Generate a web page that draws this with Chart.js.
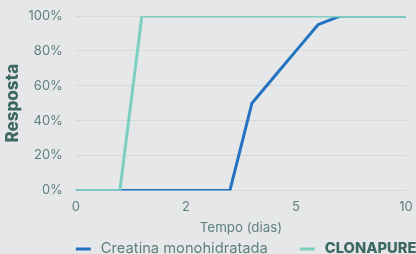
<!DOCTYPE html>
<html>
<head>
<meta charset="utf-8">
<script src="https://cdn.jsdelivr.net/npm/chart.js@4/dist/chart.umd.min.js"></script>
<style>
  html, body { margin: 0; padding: 0; background: #e6e7e9; }
  canvas { display: block; }
</style>
</head>
<body>
<canvas id="respostaChart" width="416" height="254"></canvas>
<script>
// days along the x axis (category positions), only some get a visible label
const days = ['0', '0.4', '0.8', '1.2', '1.6', '2', '2.6', '3.2', '3.8', '4.4', '5', '6', '7', '8', '9', '10'];
const shownDays = ['0', '2', '5', '10'];

const creatina = [0, 0, 0, 0, 0, 0, 0, 0, 50, 65, 80, 95, 100, 100, 100, 100];
const clonapure = [0, 0, 0, 100, 100, 100, 100, 100, 100, 100, 100, 100, 100, 100, 100, 100];

const seriesNames = ['Creatina monohidratada', 'CLONAPURE'];
const yTicks = [0, 20, 40, 60, 80, 100];

const tickColor = '#5f807b';
const titleColor = '#3e6863';
const blue = '#2373c1';
const teal = '#7dd0c0';

// legend drawn by hand so the second entry can be bold
const bottomLegend = {
    id: 'bottomLegend',
    afterDraw(chart) {
        const ctx = chart.ctx;
        const y = chart.height - 5;
        let x = chart.chartArea.left;
        const entries = [
            { text: seriesNames[0], color: blue, font: '400 14.7px Inter', textColor: tickColor },
            { text: seriesNames[1], color: teal, font: '800 14.7px Inter', textColor: titleColor }
        ];
        ctx.save();
        ctx.textBaseline = 'middle';
        ctx.textAlign = 'left';
        entries.forEach(e => {
            ctx.fillStyle = e.color;
            ctx.fillRect(x, y - 1.5, 15, 3);
            ctx.font = e.font;
            ctx.fillStyle = e.textColor;
            ctx.fillText(e.text, x + 25, y);
            x += 25 + ctx.measureText(e.text).width + 32;
        });
        ctx.restore();
    }
};

const ctx = document.getElementById('respostaChart').getContext('2d');
new Chart(ctx, {
    type: 'line',
    data: {
        labels: days,
        datasets: [{
            label: seriesNames[0],
            data: creatina,
            borderColor: blue,
            backgroundColor: blue,
            borderWidth: 3,
            pointRadius: 0,
            tension: 0,
            order: 1
        }, {
            label: seriesNames[1],
            data: clonapure,
            borderColor: teal,
            backgroundColor: teal,
            borderWidth: 3,
            pointRadius: 0,
            tension: 0,
            order: 0
        }]
    },
    options: {
        responsive: false,
        animation: false,
        layout: {
            padding: { top: 0, left: 3, right: 0, bottom: 18 }
        },
        plugins: {
            legend: { display: false },
            tooltip: { enabled: false }
        },
        scales: {
            x: {
                grid: { display: false, drawTicks: false },
                border: { display: false },
                afterFit: function (scale) {
                    scale.paddingRight = 10; // let the "10" label hang off the edge like the original
                },
                ticks: {
                    autoSkip: false,
                    maxRotation: 0,
                    padding: 9,
                    color: tickColor,
                    font: { family: 'Inter', size: 13 },
                    callback: function (value) {
                        const lab = days[value];
                        return shownDays.includes(lab) ? lab : '';
                    }
                },
                title: {
                    display: true,
                    text: 'Tempo (dias)',
                    color: tickColor,
                    font: { family: 'Inter', size: 13.3 },
                    padding: { top: -4, bottom: 0 }
                }
            },
            y: {
                min: yTicks[0],
                max: yTicks[yTicks.length - 1],
                grid: { color: '#d5d7d9', lineWidth: 1, drawTicks: false },
                border: { display: false },
                afterFit: function (scale) {
                    scale.paddingTop = 16;
                },
                ticks: {
                    stepSize: 20,
                    padding: 13,
                    color: tickColor,
                    font: { family: 'Inter', size: 13 },
                    callback: v => v + '%'
                },
                title: {
                    display: true,
                    text: 'Resposta',
                    color: titleColor,
                    font: { family: 'Inter', size: 17, weight: '800' },
                    padding: { top: 0, bottom: -8 }
                }
            }
        }
    },
    plugins: [bottomLegend]
});
</script>
</body>
</html>
